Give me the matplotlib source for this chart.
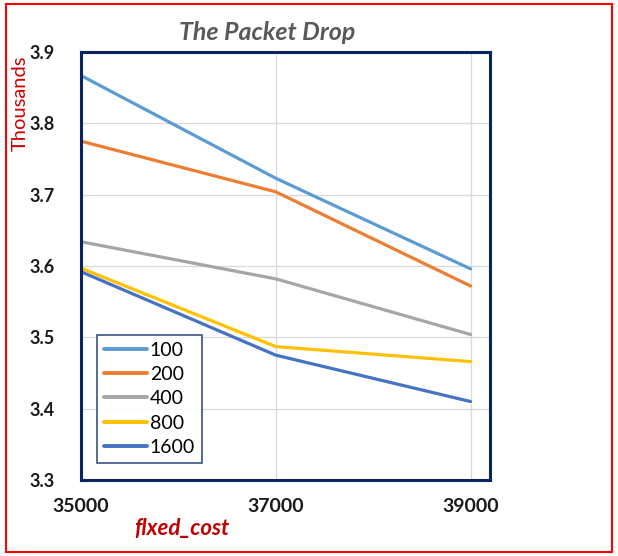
import matplotlib
matplotlib.use("Agg")
import matplotlib.pyplot as plt
from matplotlib.patches import Rectangle

plt.rcParams["font.family"] = ["Lato", "DejaVu Sans"]

fixed_cost = [35000, 37000, 39000]
series_names = ["100", "200", "400", "800", "1600"]
drop_100 = [3.867, 3.723, 3.596]
drop_200 = [3.775, 3.704, 3.572]
drop_400 = [3.634, 3.582, 3.504]
drop_800 = [3.597, 3.487, 3.466]
drop_1600 = [3.592, 3.475, 3.410]
series_values = [drop_100, drop_200, drop_400, drop_800, drop_1600]
series_colors = ["#5B9BD5", "#ED7D31", "#A5A5A5", "#FFC000", "#4472C4"]
y_ticks = [3.3, 3.4, 3.5, 3.6, 3.7, 3.8, 3.9]

fig = plt.figure(figsize=(6.18, 5.56), dpi=100)
fig.patch.set_facecolor("white")
ax = fig.add_axes([81 / 618, 1 - 480 / 556, (490 - 81) / 618, (480 - 52) / 556])

for name, vals, col in zip(series_names, series_values, series_colors):
    ax.plot(fixed_cost, vals, color=col, linewidth=2.3, label=name, solid_capstyle="round")

ax.set_xlim(35000, 39200)
ax.set_ylim(3.3, 3.9)
ax.set_xticks(fixed_cost)
ax.set_yticks(y_ticks)
ax.set_xticklabels([str(v) for v in fixed_cost], fontsize=14, fontweight="bold")
ax.set_yticklabels([f"{v:.1f}" for v in y_ticks], fontsize=13, fontweight="bold")
ax.tick_params(axis="both", length=0, colors="#1a1a1a")
ax.tick_params(axis="x", pad=13)
ax.tick_params(axis="y", pad=19)
ax.grid(True, color="#D9D9D9", linewidth=0.9)
ax.set_axisbelow(True)
for side in ["left", "right", "top", "bottom"]:
    ax.spines[side].set_color("#0A2463")
    ax.spines[side].set_linewidth(2.2)

leg = ax.legend(loc="lower left", bbox_to_anchor=(0.04, 0.04), fontsize=14, frameon=True,
                fancybox=False, handlelength=2.2, handletextpad=0.15, labelspacing=0.38,
                borderpad=0.35, borderaxespad=0)
leg.get_frame().set_edgecolor("#0A2463")
leg.get_frame().set_linewidth(1.2)
for h in leg.get_lines():
    h.set_linewidth(2.8)

fig.text(267 / 618, 1 - 33 / 556, "The Packet Drop", ha="center", va="center",
         fontsize=18, fontweight="bold", fontstyle="italic", color="#595959")
fig.text(20 / 618, 1 - 103 / 556, "Thousands", rotation=90, ha="center", va="center",
         fontsize=14.5, color="#D00000")
fig.text(182 / 618, 1 - 528 / 556, "flxed_cost", ha="center", va="center",
         fontsize=16, fontweight="bold", fontstyle="italic", color="#C00000")

fig.patches.append(Rectangle((6 / 618, 4 / 556), 606 / 618, 548 / 556, transform=fig.transFigure,
                             fill=False, edgecolor="#FF0000", linewidth=1.5))

fig.savefig("out.png", dpi=100)
